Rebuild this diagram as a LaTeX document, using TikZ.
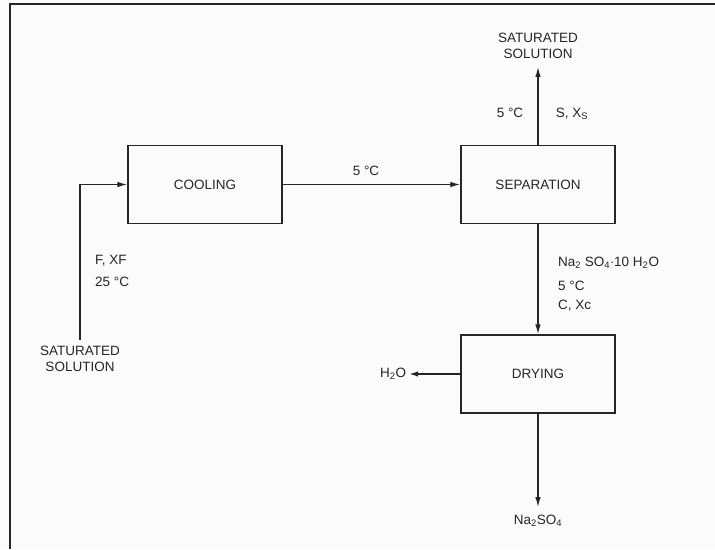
\documentclass[tikz,border=0pt]{standalone}
\usepackage{fontspec}
\setmainfont{Liberation Sans}
\usetikzlibrary{arrows.meta}
\definecolor{ink}{gray}{0.15}
\tikzset{unit/.style={draw=ink, line width=1.4pt, minimum width=154pt, minimum height=78pt, inner sep=0pt, text=ink, font=\fontsize{13.5}{16}\selectfont}}
\tikzset{lbl/.style={inner sep=2pt, text=ink, font=\fontsize{13.5}{16}\selectfont, align=center}}
\tikzset{flow/.style={draw=ink, line width=1.2pt, -{Latex[length=10pt,width=5.5pt]}}}

\begin{document}
\begin{tikzpicture}[x=1pt,y=-1pt]
\useasboundingbox (0,0) rectangle (715,549);
\fill[gray!3] (0,0) rectangle (715,549);
\draw[ink, line width=1.6pt] (10,549)--(10,4)--(715,4);
% units
\node[unit] (cool) at (205,184.5) {COOLING};
\node[unit] (sep) at (538,184.5) {SEPARATION};
\node[unit] (dry) at (538,374) {DRYING};
% streams
\node[lbl] (feed) at (80,359) {SATURATED\\SOLUTION};
\node[lbl] (sol) at (538,46) {SATURATED\\SOLUTION};
\node[lbl] (h2o) at (393,374) {H\textsubscript{2}O};
\node[lbl] (prod) at (538,521) {Na\textsubscript{2}SO\textsubscript{4}};
\coordinate (fin) at (80,340);
% stream data
\node[lbl, anchor=west] (fx) at (93,261) {F, XF};
\node[lbl, anchor=west] (ft) at (93,282) {25 °C};
\node[lbl] (ct) at (366,171) {5 °C};
\node[lbl] (st) at (510,113) {5 °C};
\node[lbl] (sx) at (572,114) {S, X\textsubscript{S}};
\node[lbl, anchor=west] (cw) at (556,263) {Na\textsubscript{2} SO\textsubscript{4}$\cdot$10 H\textsubscript{2}O};
\node[lbl, anchor=west] (cc) at (556,286) {5 °C};
\node[lbl, anchor=west] (cx) at (556,306) {C, Xc};
% connectors
\draw[flow] (fin) |- (cool.west);
\draw[flow] (cool.east) -- (sep.west);
\draw[flow, shorten >=6pt] (sep.north) -- (sol.south);
\draw[flow] (sep.south) -- (dry.north);
\draw[flow, line width=2pt] (dry.west) -- (h2o.east);
\draw[flow, shorten >=6pt] (dry.south) -- (prod.north);
\end{tikzpicture}
\end{document}
